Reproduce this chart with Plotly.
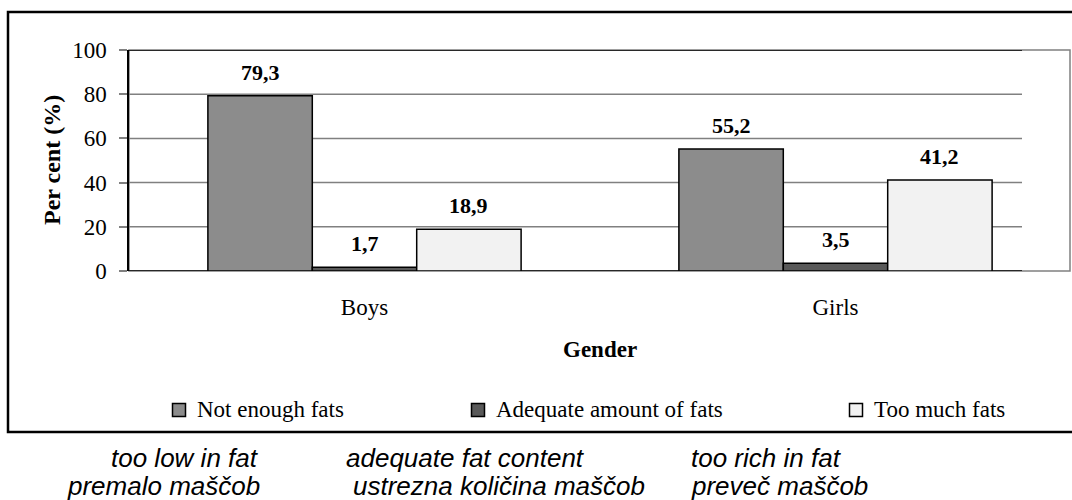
import plotly.graph_objects as go

# ---- data ----
categories = ["Boys", "Girls"]
series_names = ["Not enough fats", "Adequate amount of fats", "Too much fats"]
not_enough = [79.3, 55.2]
adequate = [1.7, 3.5]
too_much = [18.9, 41.2]
y_ticks = [0, 20, 40, 60, 80, 100]
notes_en = ["too low in fat", "adequate fat content", "too rich in fat"]
notes_sl = ["premalo maščob", "ustrezna količina maščob", "preveč maščob"]

series_values = [not_enough, adequate, too_much]
fills = ["#8c8c8c", "#595959", "#f2f2f2"]

W, H = 1072, 500
L, R, T, B = 129, 1, 50, 229
PW = W - L - R
PH = H - T - B
BARGAP = 0.335
SERIF = "Liberation Serif, Times New Roman, serif"
SANS = "Liberation Sans, Arial, sans-serif"
TXT = 23


def px_x(px):
    return (px - L) / PW


def px_y(py):
    return (T + PH - py) / PH


fig = go.Figure()
for name, vals, col in zip(series_names, series_values, fills):
    fig.add_trace(go.Bar(
        x=categories, y=vals, name=name,
        marker=dict(color=col, line=dict(color="black", width=1.5)),
        showlegend=False,
    ))

# value labels above each bar
bar_px = PW / len(categories) * (1 - BARGAP) / len(series_values)
annotations = []
for i, vals in enumerate(series_values):
    for cat, v in zip(categories, vals):
        annotations.append(dict(
            x=cat, xref="x", y=v, yref="y",
            xshift=(i - 1) * bar_px, yshift=9,
            xanchor="center", yanchor="bottom",
            text="<b>" + f"{v:.1f}".replace(".", ",") + "</b>",
            showarrow=False, font=dict(family=SERIF, size=22, color="black"),
        ))

# axis titles
annotations.append(dict(
    x=px_x(52), y=px_y(160), xref="paper", yref="paper", textangle=-90,
    xanchor="center", yanchor="middle",
    text="<b>Per cent (%)</b>", showarrow=False,
    font=dict(family=SERIF, size=24, color="black"),
))
annotations.append(dict(
    x=px_x(600), y=px_y(349), xref="paper", yref="paper",
    xanchor="center", yanchor="middle",
    text="<b>Gender</b>", showarrow=False,
    font=dict(family=SERIF, size=TXT, color="black"),
))

shapes = []
# legend (swatch + label)
swatch_cx = [179, 478, 856]
text_x = [195, 494, 872]
for name, col, sx, tx in zip(series_names, fills, swatch_cx, text_x):
    shapes.append(dict(
        type="rect", xref="paper", yref="paper",
        xsizemode="pixel", ysizemode="pixel",
        xanchor=px_x(sx), yanchor=px_y(410),
        x0=-6.5, x1=6.5, y0=-6.5, y1=6.5,
        fillcolor=col, line=dict(color="black", width=1.5),
    ))
    annotations.append(dict(
        x=px_x(tx), y=px_y(409), xref="paper", yref="paper",
        xanchor="left", yanchor="middle", text=name, showarrow=False,
        font=dict(family=SERIF, size=TXT, color="black"),
    ))

# notes under the chart
en_x = [109, 344, 689]
sl_x = [65, 351, 689]
for txt, x in zip(notes_en, en_x):
    annotations.append(dict(
        x=px_x(x), y=px_y(458), xref="paper", yref="paper",
        xanchor="left", yanchor="middle", text=f"<i>{txt}</i>", showarrow=False,
        font=dict(family=SANS, size=26, color="black"),
    ))
for txt, x in zip(notes_sl, sl_x):
    annotations.append(dict(
        x=px_x(x), y=px_y(486), xref="paper", yref="paper",
        xanchor="left", yanchor="middle", text=f"<i>{txt}</i>", showarrow=False,
        font=dict(family=SANS, size=26, color="black"),
    ))

# outer frame
shapes.append(dict(
    type="rect", xref="paper", yref="paper",
    x0=px_x(8), x1=px_x(1080), y0=px_y(432), y1=px_y(12),
    line=dict(color="black", width=2.5), layer="below",
))
# plot-area border
shapes.append(dict(
    type="rect", xref="paper", yref="paper",
    x0=0, x1=px_x(1070), y0=0, y1=1,
    line=dict(color="#808080", width=1.5), layer="below",
))
# horizontal gridlines
grid_end = px_x(1022)
for v in y_ticks[1:-1]:
    shapes.append(dict(
        type="line", xref="paper", yref="y", x0=0, x1=grid_end, y0=v, y1=v,
        line=dict(color="#808080", width=1.5), layer="below",
    ))
for v in (y_ticks[0], y_ticks[-1]):
    shapes.append(dict(
        type="line", xref="paper", yref="y", x0=0, x1=grid_end, y0=v, y1=v,
        line=dict(color="black", width=1.5), layer="below",
    ))
# category boundary ticks
for xb in (-0.5, 0.5):
    shapes.append(dict(
        type="line", xref="x", yref="y", ysizemode="pixel", yanchor=0,
        x0=xb, x1=xb, y0=0, y1=-6,
        line=dict(color="black", width=1.5),
    ))

fig.update_layout(
    width=W, height=H,
    margin=dict(l=L, r=R, t=T, b=B, autoexpand=False),
    paper_bgcolor="white", plot_bgcolor="white",
    barmode="group", bargap=BARGAP, bargroupgap=0,
    font=dict(family=SERIF, color="black"),
    annotations=annotations, shapes=shapes,
    xaxis=dict(
        showgrid=False, zeroline=False, showline=False, ticks="",
        tickfont=dict(family=SERIF, size=TXT, color="black"),
        ticklabelstandoff=20, range=[-0.5, 1.5],
    ),
    yaxis=dict(
        range=[0, 100], tickvals=y_ticks, showgrid=False, zeroline=False,
        showline=True, linecolor="black", linewidth=1.5,
        ticks="outside", ticklen=8, tickwidth=1.5, tickcolor="#808080",
        tickfont=dict(family=SERIF, size=TXT, color="black"),
        ticklabelstandoff=8,
    ),
)

fig.write_html("out.html")
